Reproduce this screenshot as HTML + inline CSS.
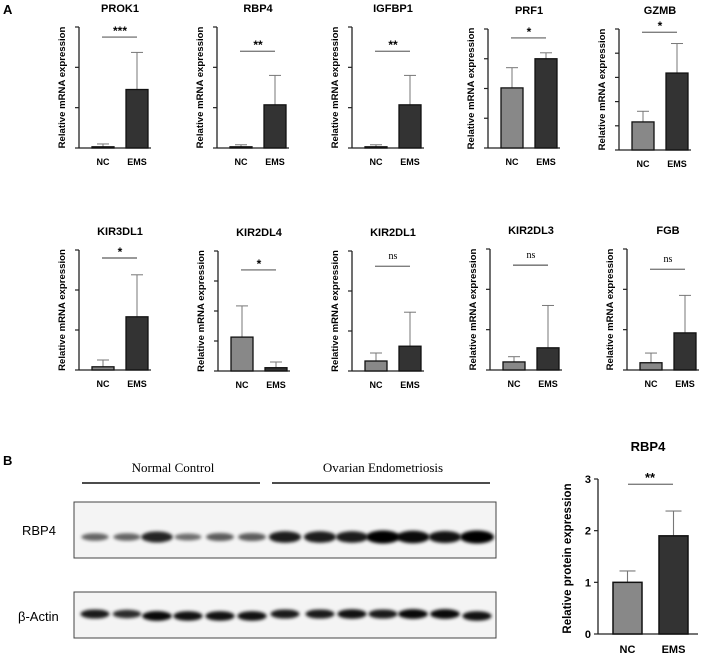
<!DOCTYPE html>
<html><head><meta charset="utf-8"><style>
html,body{margin:0;padding:0;background:#fff;}
svg{display:block;font-family:"Liberation Sans",Arial,sans-serif;}
</style></head><body>
<svg id="fig" width="708" height="655" viewBox="0 0 708 655">
<defs>
<filter id="blur" x="-30%" y="-100%" width="160%" height="300%"><feGaussianBlur stdDeviation="1.6"/></filter>
</defs>
<text x="3" y="14" font-size="13" font-weight="bold">A</text>
<text x="3" y="465" font-size="13" font-weight="bold">B</text>
<g id="panelA"></g>
<g id="blots">
<text x="173" y="472" font-size="13" text-anchor="middle" font-family="Liberation Serif,serif">Normal Control</text>
<line x1="82" y1="483" x2="260" y2="483" stroke="#111" stroke-width="1.6"/>
<text x="383" y="472" font-size="13" text-anchor="middle" font-family="Liberation Serif,serif">Ovarian Endometriosis</text>
<line x1="272" y1="483" x2="490" y2="483" stroke="#111" stroke-width="1.6"/>
<text x="22" y="535" font-size="13">RBP4</text>
<text x="18" y="621" font-size="13">β-Actin</text>
<rect x="74" y="502" width="422" height="56" fill="#f4f4f4" stroke="#444" stroke-width="1"/>
<rect x="74" y="592" width="422" height="46" fill="#f4f4f4" stroke="#444" stroke-width="1"/>
<g id="bands"></g>
</g>
<g id="panelB"></g>
</svg>
<script>
// ---- Panel A data ----
const genes = ["PROK1","RBP4","IGFBP1","PRF1","GZMB","KIR3DL1","KIR2DL4","KIR2DL1","KIR2DL3","FGB"];
const ncMeans = [0.03,0.03,0.03,2.02,1.16,0.08,1.13,0.25,0.2,0.18];
const ncErrs  = [0.07,0.05,0.05,0.68,0.44,0.17,1.04,0.2,0.13,0.24];
const emsMeans = [1.45,1.07,1.07,3.0,3.18,1.33,0.11,0.62,0.55,0.92];
const emsErrs  = [0.92,0.73,0.73,0.2,1.22,1.05,0.19,0.85,1.05,0.93];
const axisMax = [3,3,3,4,5,3,4,3,3,3];
const sigLevel = [2.75,2.4,2.4,3.7,4.87,2.8,3.37,2.62,2.6,2.5];
const sigText = ["***","**","**","*","*","*","*","ns","ns","ns"];
// ---- Panel B data ----
const protCats = ["NC","EMS"];
const protMeans = [1.0,1.9];
const protErrs = [0.22,0.48];
const protTicks = [0,1,2,3];
const protSig = 2.9;
const rbp4Bands = [0.45,0.45,0.8,0.4,0.5,0.5,0.85,0.85,0.85,1.0,0.95,0.9,1.0];
const actinBands = [0.85,0.75,0.95,0.9,0.9,0.9,0.85,0.85,0.9,0.85,0.95,0.95,0.9];

const NS="http://www.w3.org/2000/svg";
function mk(tag,attrs,parent,txt){const e=document.createElementNS(NS,tag);for(const k in attrs)e.setAttribute(k,attrs[k]);if(txt!==undefined)e.textContent=txt;parent.appendChild(e);return e;}

const axX=[79,217,352,488,619,79,218,352,490,627];
const axTop=[27,27,27,29,29,250,251,251,249,249];
const axBot=[148,148,148,148,150,370,371,371,370,370];
const pA=document.getElementById('panelA');
genes.forEach((g,i)=>{
  const gr=mk('g',{},pA);
  
  
  const x0=axX[i], yt=axTop[i], yb=axBot[i];
  const y=v=>yb-(v/axisMax[i])*(yb-yt);
  const t=mk('text',{x:x0+41,y:yt-15,'font-size':11,'font-weight':'bold','text-anchor':'middle'},gr,g);
  
  
  const yl=mk('text',{x:0,y:0,'font-size':9.6,'font-weight':'bold','text-anchor':'middle',transform:`translate(${x0-14},${(yt+yb)/2}) rotate(-90)`},gr,'Relative mRNA expression');
  
  
  const ya=mk('line',{x1:x0,y1:yt,x2:x0,y2:yb,stroke:'#222','stroke-width':1.3},gr);
  
  
  for(let k=0;k<=axisMax[i];k++){
    const tk=mk('line',{x1:x0-4,y1:y(k),x2:x0,y2:y(k),stroke:'#222','stroke-width':1.2},gr);
    
    
  }
  const xa=mk('line',{x1:x0,y1:yb,x2:x0+72,y2:yb,stroke:'#222','stroke-width':1.3},gr);
  
  
  [[ncMeans[i],ncErrs[i],13,'#888','NC'],[emsMeans[i],emsErrs[i],47,'#333','EMS']].forEach(([m,e,off,col,lab])=>{
    const bx=x0+off, cx=bx+11;
    const el=mk('line',{x1:cx,y1:y(m),x2:cx,y2:y(m+e),stroke:'#777','stroke-width':1},gr);
    
    
    const ec=mk('line',{x1:cx-6,y1:y(m+e),x2:cx+6,y2:y(m+e),stroke:'#777','stroke-width':1},gr);
    
    
    const r=mk('rect',{x:bx,y:y(m),width:22,height:Math.max(yb-y(m),1),fill:col,stroke:'#111','stroke-width':1.3},gr);
    
    
    const xl=mk('text',{x:cx,y:yb+17,'font-size':9,'font-weight':'bold','text-anchor':'middle'},gr,lab);
    
    
  });
  const sy=y(sigLevel[i]);
  const sl=mk('line',{x1:x0+23,y1:sy,x2:x0+58,y2:sy,stroke:'#333','stroke-width':0.9},gr);
  
  
  const isNs=sigText[i]==='ns';
  const st=mk('text',{x:x0+41,y:isNs?sy-7:sy-2,'font-size':isNs?10:12,'font-weight':isNs?'normal':'bold','text-anchor':'middle','font-family':isNs?'Liberation Serif,serif':'Liberation Sans,sans-serif'},gr,sigText[i]);
  
  
});

// ---- blot bands ----
const bands=document.getElementById('bands');
const laneX=[95,127,157,188,220,252,285,320,352,383,413,445,477];
rbp4Bands.forEach((v,i)=>{
  const b=mk('ellipse',{cx:laneX[i],cy:537,rx:11+v*6,ry:1.5+v*5,fill:'#000','fill-opacity':0.25+v*0.75,filter:'url(#blur)'},bands);
  
  
});
actinBands.forEach((v,i)=>{
  const b=mk('ellipse',{cx:laneX[i],cy:i<2||(i>5&&i<12)?614:616,rx:12+v*3,ry:2+v*3,fill:'#000','fill-opacity':0.3+v*0.7,filter:'url(#blur)'},bands);
  
  
});

// ---- Panel B chart ----
const pB=document.getElementById('panelB');
const bx0=598, byt=479, byb=634, bmax=3;
const by=v=>byb-(v/bmax)*(byb-byt);
const tt=mk('text',{x:648,y:451,'font-size':13,'font-weight':'bold','text-anchor':'middle'},pB,'RBP4');


const byl=mk('text',{x:0,y:0,'font-size':11.5,'font-weight':'bold','text-anchor':'middle',transform:`translate(571,${(byt+byb)/2+2}) rotate(-90)`},pB,'Relative protein expression');


const bya=mk('line',{x1:bx0,y1:byt,x2:bx0,y2:byb,stroke:'#222','stroke-width':1.3},pB);


protTicks.forEach(t=>{
  const l=mk('line',{x1:bx0-4,y1:by(t),x2:bx0,y2:by(t),stroke:'#222','stroke-width':1.2},pB);
  
  
  const lt=mk('text',{x:bx0-7,y:by(t)+4,'font-size':11,'font-weight':'bold','text-anchor':'end'},pB,String(t));
  
  
});
const bxa=mk('line',{x1:bx0,y1:byb,x2:bx0+100,y2:byb,stroke:'#222','stroke-width':1.3},pB);


const pOff=[15,61], pCol=['#888','#333'];
protCats.forEach((c,i)=>{
  const bxx=bx0+pOff[i], cx=bxx+14.5, m=protMeans[i], e=protErrs[i];
  const el=mk('line',{x1:cx,y1:by(m),x2:cx,y2:by(m+e),stroke:'#777','stroke-width':1.1},pB);
  
  
  const ec=mk('line',{x1:cx-8,y1:by(m+e),x2:cx+8,y2:by(m+e),stroke:'#777','stroke-width':1.1},pB);
  
  
  const r=mk('rect',{x:bxx,y:by(m),width:29,height:byb-by(m),fill:pCol[i],stroke:'#111','stroke-width':1.5},pB);
  
  
  const xl=mk('text',{x:cx,y:byb+19,'font-size':11,'font-weight':'bold','text-anchor':'middle'},pB,c);
  
  
});
const psy=by(protSig);
const psl=mk('line',{x1:628,y1:psy,x2:673,y2:psy,stroke:'#333','stroke-width':0.9},pB);


const pst=mk('text',{x:650,y:psy-2,'font-size':13,'font-weight':'bold','text-anchor':'middle'},pB,'**');


</script>
</body></html>
